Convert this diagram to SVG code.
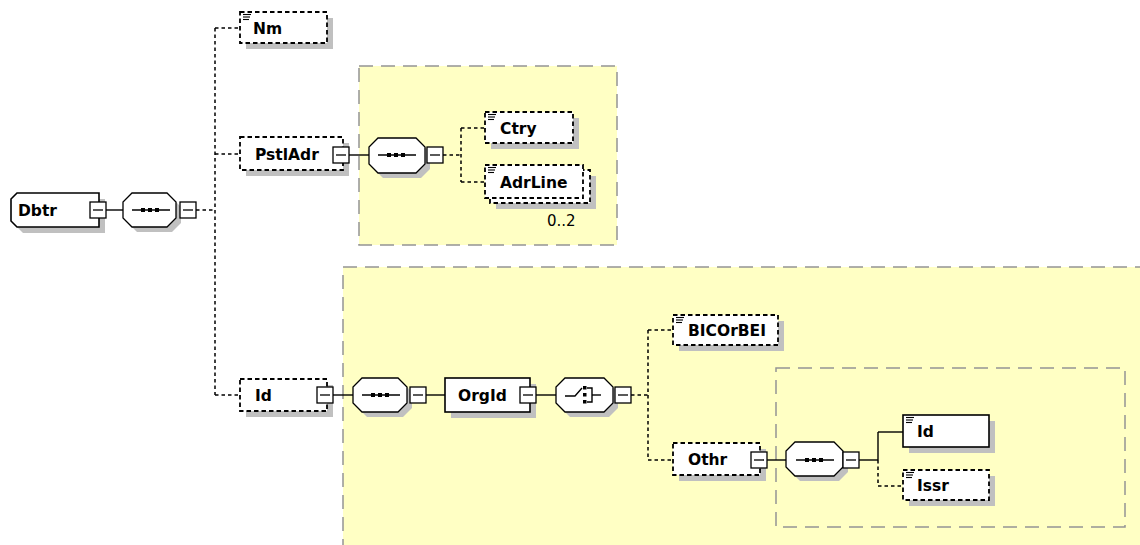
<svg xmlns="http://www.w3.org/2000/svg" width="1140" height="545" viewBox="0 0 1140 545">
<style>
.bg{fill:#fff}
.ybox{fill:#ffffc4;stroke:#949494;stroke-width:1.5;stroke-dasharray:14 8}
.ibox{fill:none;stroke:#949494;stroke-width:1.5;stroke-dasharray:14 8}
.sh{fill:#c0c0c0;stroke:none}
.opt{fill:#fff;stroke:#000;stroke-width:1.8;stroke-dasharray:4.5 3}
.req{fill:#fff;stroke:#000;stroke-width:1.6}
.comp{fill:#fff;stroke:#000;stroke-width:1.3}
.lbl{font-family:"DejaVu Sans",Verdana,sans-serif;font-weight:bold;font-size:15.5px;fill:#000}
.occ{font-family:"DejaVu Sans",Verdana,sans-serif;font-size:15px;fill:#000}
.c{stroke:#000;stroke-width:1.4;fill:none}
.d{stroke:#000;stroke-width:1.5;fill:none;stroke-dasharray:3.5 3}
.ic{stroke:#000;stroke-width:1.1}
</style>
<defs>
<g id="btn"><rect x="0" y="0" width="16" height="16" fill="#fff" stroke="#000" stroke-width="1.3"/><line x1="3" y1="8" x2="13" y2="8" stroke="#000" stroke-width="1.3"/></g>
<g id="icon"><line class="ic" x1="0" y1="0.5" x2="8" y2="0.5"/><line class="ic" x1="0" y1="3" x2="7" y2="3"/><line class="ic" x1="0" y1="5.5" x2="6" y2="5.5"/></g>
<g id="seqsym"><line x1="-18" y1="0" x2="20" y2="0" stroke="#000" stroke-width="1.3"/><rect x="-9" y="-2" width="4" height="4" fill="#000"/><rect x="-2" y="-2" width="4" height="4" fill="#000"/><rect x="5" y="-2" width="4" height="4" fill="#000"/></g>
</defs>
<rect x="0" y="0" width="1140" height="545" class="bg"/>
<rect class="ybox" x="343" y="267" width="810" height="290"/>
<rect class="ybox" x="359" y="66" width="258" height="179"/>
<rect class="ibox" x="776" y="368" width="349" height="159"/>

<g id="connectors">
<line class="c" x1="106" y1="210" x2="123" y2="210"/>
<line class="d" x1="196" y1="210" x2="215" y2="210"/>
<line class="d" x1="215" y1="28" x2="215" y2="395"/>
<line class="d" x1="215" y1="28" x2="240" y2="28"/>
<line class="d" x1="215" y1="154" x2="240" y2="154"/>
<line class="d" x1="215" y1="395" x2="240" y2="395"/>
<line class="c" x1="349" y1="155" x2="369" y2="155"/>
<line class="d" x1="443" y1="155" x2="461" y2="155"/>
<line class="d" x1="461" y1="128" x2="461" y2="182"/>
<line class="d" x1="461" y1="128" x2="485" y2="128"/>
<line class="d" x1="461" y1="182" x2="485" y2="182"/>
<line class="c" x1="333" y1="395" x2="353" y2="395"/>
<line class="c" x1="426" y1="395" x2="445" y2="395"/>
<line class="c" x1="536" y1="395" x2="556" y2="395"/>
<line class="d" x1="631" y1="395" x2="648" y2="395"/>
<line class="d" x1="648" y1="330" x2="648" y2="460"/>
<line class="d" x1="648" y1="330" x2="673" y2="330"/>
<line class="d" x1="648" y1="460" x2="673" y2="460"/>
<line class="c" x1="767" y1="460" x2="786" y2="460"/>
<line class="c" x1="859" y1="460" x2="878" y2="460"/>
<line class="c" x1="878" y1="432" x2="878" y2="460"/>
<line class="c" x1="878" y1="432" x2="903" y2="432"/>
<line class="d" x1="878" y1="460" x2="878" y2="486"/>
<line class="d" x1="878" y1="486" x2="903" y2="486"/>
</g>

<g id="Dbtr">
<path class="sh" d="M23,199 H105 V233 H23 L17,227 V205 Z"/>
<path class="req" d="M17,193 H99 V227 H17 L11,221 V199 Z"/>
<text class="lbl" x="18" y="216">Dbtr</text>
<use href="#btn" x="90" y="202"/>
</g>

<g id="seq1">
<path class="sh" d="M137,198 H172 L181,207 V223 L172,232 H137 L128,223 V207 Z"/>
<path class="comp" d="M132,193 H167 L176,202 V218 L167,227 H132 L123,218 V202 Z"/>
<use href="#seqsym" x="150" y="210"/>
<use href="#btn" x="180" y="202"/>
</g>

<g id="Nm">
<rect class="sh" x="246" y="18" width="87" height="31"/>
<rect class="opt" x="240" y="12" width="87" height="31"/>
<use href="#icon" x="243" y="14"/>
<text class="lbl" x="253" y="34">Nm</text>
</g>

<g id="PstlAdr">
<rect class="sh" x="246" y="143" width="103" height="33"/>
<rect class="opt" x="240" y="137" width="103" height="33"/>
<text class="lbl" x="255" y="160">PstlAdr</text>
<use href="#btn" x="333" y="147"/>
</g>

<g id="seq2">
<path class="sh" d="M383,143 H421 L430,152 V169 L421,178 H383 L374,169 V152 Z"/>
<path class="comp" d="M378,138 H416 L425,147 V164 L416,173 H378 L369,164 V147 Z"/>
<use href="#seqsym" x="396" y="155"/>
<use href="#btn" x="427" y="147"/>
</g>

<g id="Ctry">
<rect class="sh" x="491" y="118" width="88" height="31"/>
<rect class="opt" x="485" y="112" width="88" height="31"/>
<use href="#icon" x="488" y="114"/>
<text class="lbl" x="500" y="134">Ctry</text>
</g>

<g id="AdrLine">
<rect class="sh" x="496" y="176" width="100" height="33"/>
<rect class="opt" x="490" y="170" width="100" height="33"/>
<rect class="opt" x="485" y="165" width="98" height="33"/>
<use href="#icon" x="488" y="167"/>
<text class="lbl" x="500" y="188">AdrLine</text>
<text class="occ" x="547" y="226">0..2</text>
</g>

<g id="Id">
<rect class="sh" x="246" y="385" width="87" height="32"/>
<rect class="opt" x="240" y="379" width="87" height="32"/>
<text class="lbl" x="255" y="401">Id</text>
<use href="#btn" x="317" y="387"/>
</g>

<g id="seq3">
<path class="sh" d="M367,383 H403 L412,392 V408 L403,417 H367 L358,408 V392 Z"/>
<path class="comp" d="M362,378 H398 L407,387 V403 L398,412 H362 L353,403 V387 Z"/>
<use href="#seqsym" x="380" y="395"/>
<use href="#btn" x="410" y="387"/>
</g>

<g id="OrgId">
<rect class="sh" x="451" y="384" width="85" height="34"/>
<rect class="req" x="445" y="378" width="85" height="34"/>
<text class="lbl" x="458" y="401">OrgId</text>
<use href="#btn" x="520" y="387"/>
</g>

<g id="choice">
<path class="sh" d="M570,383 H609 L618,392 V408 L609,417 H570 L561,408 V392 Z"/>
<path class="comp" d="M565,378 H604 L613,387 V403 L604,412 H565 L556,403 V387 Z"/>
<polyline class="c" points="565,396 575,396 582,388"/>
<rect x="583" y="386" width="3.5" height="3.5" fill="#000"/>
<rect x="583" y="393" width="3.5" height="3.5" fill="#000"/>
<rect x="583" y="400" width="3.5" height="3.5" fill="#000"/>
<polyline class="c" points="587,388 592,388 592,402 587,402"/>
<line class="c" x1="592" y1="395" x2="601" y2="395"/>
<use href="#btn" x="615" y="387"/>
</g>

<g id="BICOrBEI">
<rect class="sh" x="679" y="321" width="105" height="30"/>
<rect class="opt" x="673" y="315" width="105" height="30"/>
<use href="#icon" x="676" y="317"/>
<text class="lbl" x="688" y="336">BICOrBEI</text>
</g>

<g id="Othr">
<rect class="sh" x="679" y="449" width="87" height="32"/>
<rect class="opt" x="673" y="443" width="87" height="32"/>
<text class="lbl" x="688" y="465">Othr</text>
<use href="#btn" x="751" y="452"/>
</g>

<g id="seq4">
<path class="sh" d="M800,447 H839 L848,456 V472 L839,481 H800 L791,472 V456 Z"/>
<path class="comp" d="M795,442 H834 L843,451 V467 L834,476 H795 L786,467 V451 Z"/>
<use href="#seqsym" x="814" y="460"/>
<use href="#btn" x="843" y="452"/>
</g>

<g id="Id2">
<rect class="sh" x="909" y="421" width="86" height="32"/>
<rect class="req" x="903" y="415" width="86" height="32"/>
<use href="#icon" x="906" y="417"/>
<text class="lbl" x="917" y="437">Id</text>
</g>

<g id="Issr">
<rect class="sh" x="909" y="476" width="86" height="30"/>
<rect class="opt" x="903" y="470" width="86" height="30"/>
<use href="#icon" x="906" y="472"/>
<text class="lbl" x="917" y="491">Issr</text>
</g>
</svg>
